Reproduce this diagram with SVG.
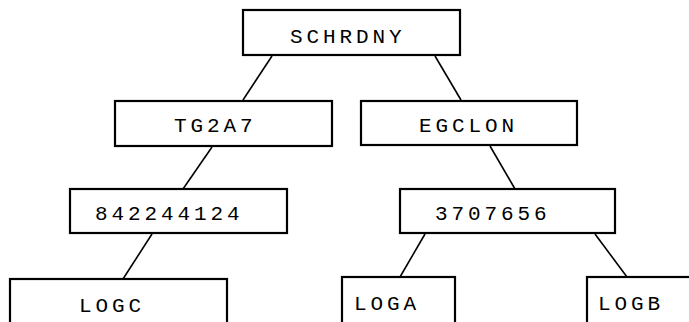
<svg xmlns="http://www.w3.org/2000/svg" width="689" height="322" viewBox="0 0 689 322">
<style>
.box{fill:#fff;stroke:#000;stroke-width:2.2}
.lbl{font-family:"Liberation Mono","Courier New",monospace;font-size:21px;letter-spacing:3.9px;fill:#000}
.edge{stroke:#000;stroke-width:1.6;fill:none}
</style>
<rect width="689" height="322" fill="#fff"/>
<g id="connectors">
<line class="edge" x1="272" y1="56" x2="243" y2="100"/>
<line class="edge" x1="435" y1="56" x2="461" y2="100"/>
<line class="edge" x1="212" y1="147" x2="183" y2="189"/>
<line class="edge" x1="490" y1="146" x2="515" y2="189"/>
<line class="edge" x1="152" y1="234" x2="123" y2="279"/>
<line class="edge" x1="425" y1="234" x2="400" y2="277"/>
<line class="edge" x1="595" y1="234" x2="627" y2="277"/>
</g>
<g id="n-schrdny"><rect class="box" x="243" y="10" width="217" height="45"/><text class="lbl" x="290" y="43">SCHRDNY</text></g>
<g id="n-tg2a7"><rect class="box" x="115" y="101" width="217" height="45"/><text class="lbl" x="174" y="132">TG2A7</text></g>
<g id="n-egclon"><rect class="box" x="361" y="101" width="216" height="44"/><text class="lbl" x="419" y="132">EGCLON</text></g>
<g id="n-842244124"><rect class="box" x="70" y="189" width="217" height="44"/><text class="lbl" x="95" y="220">842244124</text></g>
<g id="n-3707656"><rect class="box" x="400" y="189" width="215" height="44"/><text class="lbl" x="435" y="220">3707656</text></g>
<g id="n-logc"><rect class="box" x="10" y="279" width="217" height="60"/><text class="lbl" x="79" y="312">LOGC</text></g>
<g id="n-loga"><rect class="box" x="342" y="277" width="113" height="60"/><text class="lbl" x="354" y="310">LOGA</text></g>
<g id="n-logb"><rect class="box" x="587" y="277" width="120" height="60"/><text class="lbl" x="598" y="310">LOGB</text></g>
</svg>
